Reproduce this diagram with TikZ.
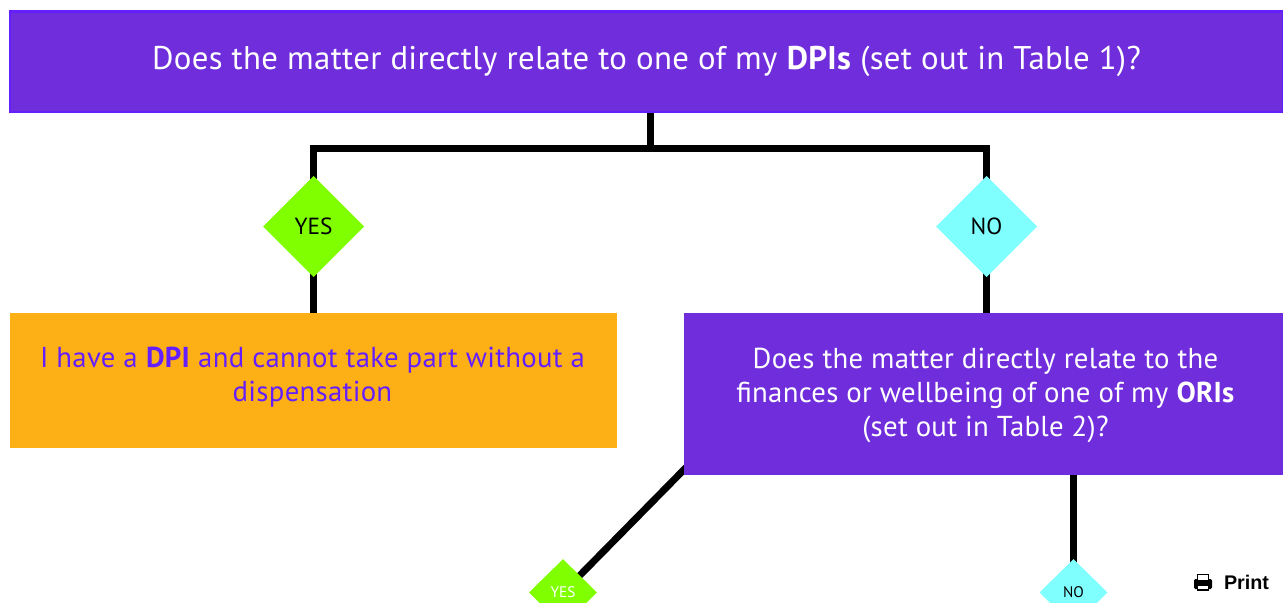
\documentclass[tikz,border=0pt]{standalone}
\usepackage{fontspec}
\setmainfont{PT Sans}
\newfontfamily\printfont{Liberation Sans}
\newfontfamily\titlefont[LetterSpace=1]{PT Sans}
\usetikzlibrary{shapes.geometric,backgrounds}
\definecolor{boxpurple}{HTML}{702DDB}
\definecolor{edgepurple}{HTML}{651FFF}
\definecolor{boxorange}{HTML}{FDB015}
\definecolor{yesgreen}{HTML}{80FF00}
\definecolor{nocyan}{HTML}{80FFFF}

\begin{document}
\begin{tikzpicture}[x=0.75pt,y=-0.75pt,outer sep=0pt,
  link/.style={draw=black,line width=5.25pt},
  title node/.style={rectangle,fill=boxpurple,draw=edgepurple,line width=2pt,text=white,inner sep=0pt,
    align=center,minimum width=955pt,minimum height=75.5pt,font=\titlefont\fontsize{24.6}{30}\selectfont},
  ask node/.style={rectangle,fill=boxpurple,inner sep=0pt,minimum width=449.25pt,minimum height=121.5pt},
  dpi node/.style={rectangle,fill=boxorange,inner sep=0pt,minimum width=455.25pt,minimum height=101.25pt},
  body text/.style={align=center,inner sep=0pt,font=\titlefont\fontsize{21.6}{25.5}\selectfont},
  big yes/.style={diamond,fill=yesgreen,inner sep=0pt,minimum width=75.75pt,minimum height=75.75pt,font=\fontsize{17.5}{20}\selectfont},
  big no/.style={big yes,fill=nocyan},
  small yes/.style={diamond,fill=yesgreen,text=white,inner sep=0pt,minimum width=51pt,minimum height=50pt,font=\fontsize{11.5}{14}\selectfont},
  small no/.style={small yes,fill=nocyan,text=black}]
  \useasboundingbox (0,0) rectangle (1283,603);
  \clip (0,0) rectangle (1283,603);
  \coordinate (split) at (650,148);
  \coordinate (orilink) at (690,463.5);

  \node[big yes] (yes1) at (313.5,226.5) {YES};
  \node[big no] (no1) at (986.5,226.5) {NO};
  \node[small yes] (yes2) at (563,592.5) {YES};
  \node[small no] (no2) at (1073.5,592.5) {NO};
  \node[title node] (title) at (646.5,61.5) {Does the matter directly relate to one of my \textbf{DPIs} (set out in Table 1)?};
  \node[dpi node] (dpi) at (313.5,380.5) {};
  \node[body text,text=edgepurple] (dpitext) at (312.5,377.5) {I have a \textbf{DPI} and cannot take part without a\\dispensation};
  \node[ask node] (ori) at (983.5,394) {};
  \node[body text,text=white] (oritext) at (985.5,395) {Does the matter directly relate to the\\finances or wellbeing of one of my \textbf{ORIs}\\(set out in Table 2)?};

  \begin{pgfonlayer}{background}
    \draw[link] (split |- title.center) -- (split);
    \draw[link] (yes1.center) -- (yes1.center |- split) -- (no1.center |- split) -- (no1.center);
    \draw[link] (yes1.center) -- (dpi.center -| yes1.center);
    \draw[link] (no1.center) -- (ori.center -| no1.center);
    \draw[link] (orilink) -- (yes2.center);
    \draw[link] (no2.center) -- (ori.center -| no2.center);
  \end{pgfonlayer}

  \node[font=\printfont\fontsize{14.8}{17}\selectfont\bfseries,inner sep=0pt] (print) at (1246.5,582.5) {Print};
  % printer icon
  \fill[black,rounded corners=1pt] (1194,579) rectangle (1212,589);
  \draw[line width=1.2pt,fill=white] (1197.5,574.5) rectangle (1208.5,581);
  \draw[line width=1.2pt,fill=white] (1197.5,585) rectangle (1208.5,590);
\end{tikzpicture}
\end{document}
